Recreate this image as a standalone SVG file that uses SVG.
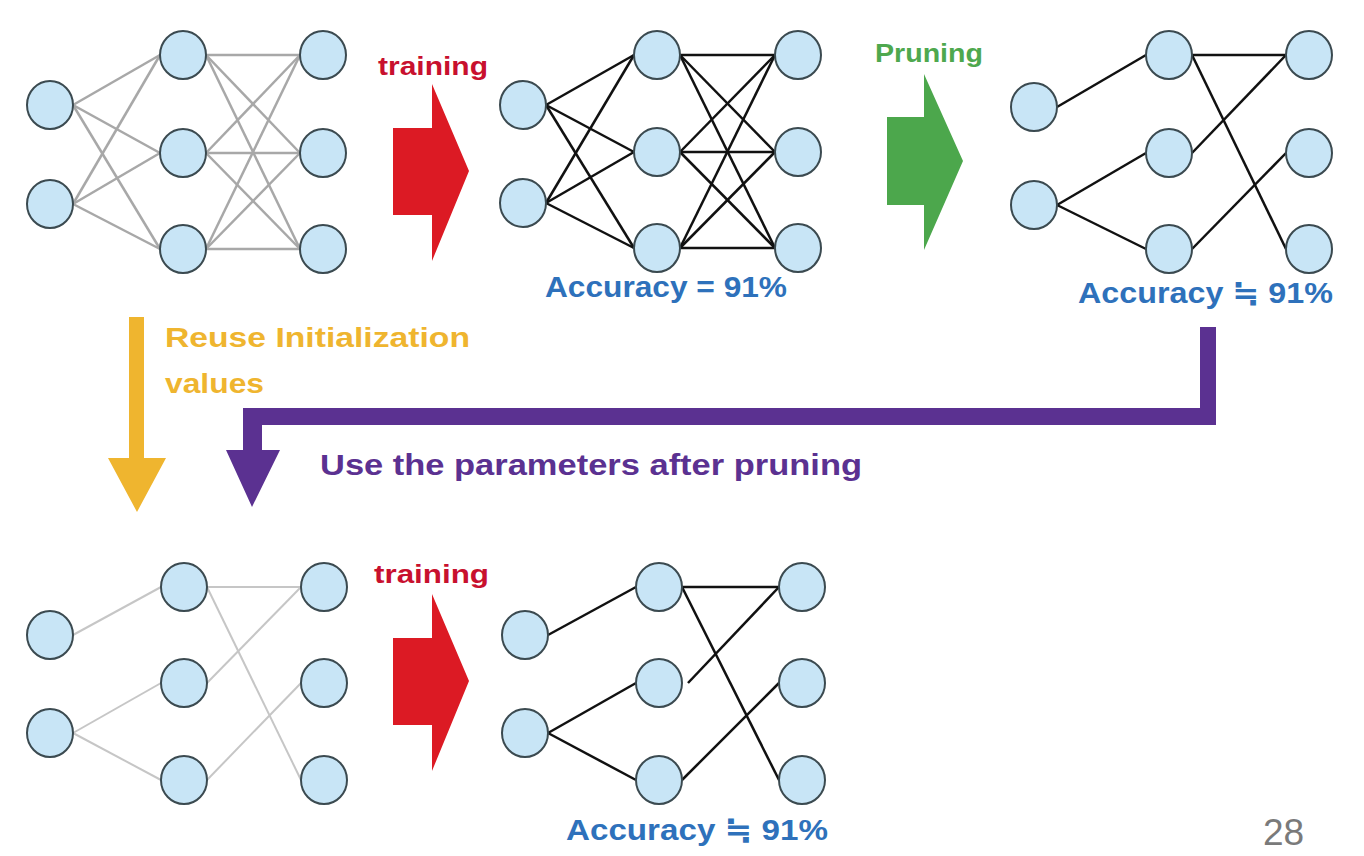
<svg xmlns="http://www.w3.org/2000/svg" width="1364" height="856" viewBox="0 0 1364 856">
<style>
.n{fill:#c8e5f6;stroke:#3b4a50;stroke-width:2}
.eg{stroke:#a8a8a8;stroke-width:2.5;fill:none}
.el{stroke:#c6c6c6;stroke-width:2;fill:none}
.eb{stroke:#111;stroke-width:2.5;fill:none}
.t{font-family:"Liberation Sans","DejaVu Sans",sans-serif;font-weight:bold}
</style>
<rect width="1364" height="856" fill="#fff"/>
<g id="connectors">
<g class="eg">
<line x1="73" y1="105" x2="160" y2="55"/><line x1="73" y1="105" x2="160" y2="153"/><line x1="73" y1="105" x2="160" y2="249"/>
<line x1="73" y1="204" x2="160" y2="55"/><line x1="73" y1="204" x2="160" y2="153"/><line x1="73" y1="204" x2="160" y2="249"/>
<line x1="206" y1="55" x2="300" y2="55"/><line x1="206" y1="55" x2="300" y2="153"/><line x1="206" y1="55" x2="300" y2="249"/>
<line x1="206" y1="153" x2="300" y2="55"/><line x1="206" y1="153" x2="300" y2="153"/><line x1="206" y1="153" x2="300" y2="249"/>
<line x1="206" y1="249" x2="300" y2="55"/><line x1="206" y1="249" x2="300" y2="153"/><line x1="206" y1="249" x2="300" y2="249"/>
</g>
<g class="eb">
<line x1="546" y1="105" x2="634" y2="55"/><line x1="546" y1="105" x2="634" y2="152"/><line x1="546" y1="105" x2="634" y2="248"/>
<line x1="546" y1="203" x2="634" y2="55"/><line x1="546" y1="203" x2="634" y2="152"/><line x1="546" y1="203" x2="634" y2="248"/>
<line x1="680" y1="55" x2="775" y2="55"/><line x1="680" y1="55" x2="775" y2="152"/><line x1="680" y1="55" x2="775" y2="248"/>
<line x1="680" y1="152" x2="775" y2="55"/><line x1="680" y1="152" x2="775" y2="152"/><line x1="680" y1="152" x2="775" y2="248"/>
<line x1="680" y1="248" x2="775" y2="55"/><line x1="680" y1="248" x2="775" y2="152"/><line x1="680" y1="248" x2="775" y2="248"/>
</g>
<g class="eb">
<line x1="1057" y1="107" x2="1146" y2="55"/><line x1="1057" y1="205" x2="1146" y2="153"/><line x1="1057" y1="205" x2="1146" y2="249"/>
<line x1="1192" y1="55" x2="1286" y2="55"/><line x1="1192" y1="55" x2="1286" y2="249"/>
<line x1="1192" y1="153" x2="1286" y2="55"/><line x1="1192" y1="249" x2="1286" y2="153"/>
</g>
<g class="el">
<line x1="73" y1="635" x2="161" y2="587"/><line x1="73" y1="733" x2="161" y2="683"/><line x1="73" y1="733" x2="161" y2="780"/>
<line x1="207" y1="587" x2="301" y2="587"/><line x1="207" y1="587" x2="301" y2="780"/>
<line x1="207" y1="683" x2="301" y2="587"/><line x1="207" y1="780" x2="301" y2="683"/>
</g>
<g class="eb">
<line x1="548" y1="635" x2="636" y2="587"/><line x1="548" y1="733" x2="636" y2="683"/><line x1="548" y1="733" x2="636" y2="780"/>
<line x1="682" y1="587" x2="779" y2="587"/><line x1="682" y1="587" x2="779" y2="780"/>
<line x1="688" y1="683" x2="779" y2="587"/><line x1="682" y1="780" x2="779" y2="683"/>
</g>
</g>
<g id="netA">
<g id="a-in1"><ellipse class="n" cx="50" cy="105" rx="23" ry="24"/></g>
<g id="a-in2"><ellipse class="n" cx="50" cy="204" rx="23" ry="24"/></g>
<g id="a-h1"><ellipse class="n" cx="183" cy="55" rx="23" ry="24"/></g>
<g id="a-h2"><ellipse class="n" cx="183" cy="153" rx="23" ry="24"/></g>
<g id="a-h3"><ellipse class="n" cx="183" cy="249" rx="23" ry="24"/></g>
<g id="a-o1"><ellipse class="n" cx="323" cy="55" rx="23" ry="24"/></g>
<g id="a-o2"><ellipse class="n" cx="323" cy="153" rx="23" ry="24"/></g>
<g id="a-o3"><ellipse class="n" cx="323" cy="249" rx="23" ry="24"/></g>
</g>
<g id="netB">
<g id="b-in1"><ellipse class="n" cx="523" cy="105" rx="23" ry="24"/></g>
<g id="b-in2"><ellipse class="n" cx="523" cy="203" rx="23" ry="24"/></g>
<g id="b-h1"><ellipse class="n" cx="657" cy="55" rx="23" ry="24"/></g>
<g id="b-h2"><ellipse class="n" cx="657" cy="152" rx="23" ry="24"/></g>
<g id="b-h3"><ellipse class="n" cx="657" cy="248" rx="23" ry="24"/></g>
<g id="b-o1"><ellipse class="n" cx="798" cy="55" rx="23" ry="24"/></g>
<g id="b-o2"><ellipse class="n" cx="798" cy="152" rx="23" ry="24"/></g>
<g id="b-o3"><ellipse class="n" cx="798" cy="248" rx="23" ry="24"/></g>
</g>
<g id="netC">
<g id="c-in1"><ellipse class="n" cx="1034" cy="107" rx="23" ry="24"/></g>
<g id="c-in2"><ellipse class="n" cx="1034" cy="205" rx="23" ry="24"/></g>
<g id="c-h1"><ellipse class="n" cx="1169" cy="55" rx="23" ry="24"/></g>
<g id="c-h2"><ellipse class="n" cx="1169" cy="153" rx="23" ry="24"/></g>
<g id="c-h3"><ellipse class="n" cx="1169" cy="249" rx="23" ry="24"/></g>
<g id="c-o1"><ellipse class="n" cx="1309" cy="55" rx="23" ry="24"/></g>
<g id="c-o2"><ellipse class="n" cx="1309" cy="153" rx="23" ry="24"/></g>
<g id="c-o3"><ellipse class="n" cx="1309" cy="249" rx="23" ry="24"/></g>
</g>
<g id="netD">
<g id="d-in1"><ellipse class="n" cx="50" cy="635" rx="23" ry="24"/></g>
<g id="d-in2"><ellipse class="n" cx="50" cy="733" rx="23" ry="24"/></g>
<g id="d-h1"><ellipse class="n" cx="184" cy="587" rx="23" ry="24"/></g>
<g id="d-h2"><ellipse class="n" cx="184" cy="683" rx="23" ry="24"/></g>
<g id="d-h3"><ellipse class="n" cx="184" cy="780" rx="23" ry="24"/></g>
<g id="d-o1"><ellipse class="n" cx="324" cy="587" rx="23" ry="24"/></g>
<g id="d-o2"><ellipse class="n" cx="324" cy="683" rx="23" ry="24"/></g>
<g id="d-o3"><ellipse class="n" cx="324" cy="780" rx="23" ry="24"/></g>
</g>
<g id="netE">
<g id="e-in1"><ellipse class="n" cx="525" cy="635" rx="23" ry="24"/></g>
<g id="e-in2"><ellipse class="n" cx="525" cy="733" rx="23" ry="24"/></g>
<g id="e-h1"><ellipse class="n" cx="659" cy="587" rx="23" ry="24"/></g>
<g id="e-h2"><ellipse class="n" cx="659" cy="683" rx="23" ry="24"/></g>
<g id="e-h3"><ellipse class="n" cx="659" cy="780" rx="23" ry="24"/></g>
<g id="e-o1"><ellipse class="n" cx="802" cy="587" rx="23" ry="24"/></g>
<g id="e-o2"><ellipse class="n" cx="802" cy="683" rx="23" ry="24"/></g>
<g id="e-o3"><ellipse class="n" cx="802" cy="780" rx="23" ry="24"/></g>
</g>
<g id="arrow-train1"><polygon fill="#dc1a24" points="393,128 432,128 432,84 469,171 432,261 432,215 393,215"/></g>
<g id="arrow-prune"><polygon fill="#4ca74c" points="887,117 924,117 924,74 963,161 924,250 924,205 887,205"/></g>
<g id="arrow-train2"><polygon fill="#dc1a24" points="393,638 432,638 432,594 469,681 432,771 432,725 393,725"/></g>
<g id="arrow-reuse"><polygon fill="#efb52f" points="129,317 144,317 144,458 166,458 137,512 108,458 129,458"/></g>
<g id="arrow-params"><polygon fill="#5b3191" points="1200,327 1216,327 1216,425 262,425 262,450 280,450 252,507 226,450 243,450 243,408 1200,408"/></g>
<g id="labels">
<text class="t" x="378" y="75" font-size="25" fill="#c8102e" textLength="110" lengthAdjust="spacingAndGlyphs">training</text>
<text class="t" x="875" y="62" font-size="25" fill="#4ea84e" textLength="108" lengthAdjust="spacingAndGlyphs">Pruning</text>
<text class="t" x="545" y="297" font-size="30" fill="#2e71bb" textLength="242" lengthAdjust="spacingAndGlyphs">Accuracy = 91%</text>
<text class="t" x="1078" y="303" font-size="29" fill="#2e71bb" textLength="255" lengthAdjust="spacingAndGlyphs">Accuracy ≒ 91%</text>
<text class="t" x="165" y="347" font-size="28" fill="#efb52f" textLength="305" lengthAdjust="spacingAndGlyphs">Reuse Initialization</text>
<text class="t" x="165" y="393" font-size="28" fill="#efb52f" textLength="99" lengthAdjust="spacingAndGlyphs">values</text>
<text class="t" x="320" y="475" font-size="30" fill="#5b3191" textLength="542" lengthAdjust="spacingAndGlyphs">Use the parameters after pruning</text>
<text class="t" x="374" y="583" font-size="25" fill="#c8102e" textLength="115" lengthAdjust="spacingAndGlyphs">training</text>
<text class="t" x="566" y="840" font-size="30" fill="#2e71bb" textLength="262" lengthAdjust="spacingAndGlyphs">Accuracy ≒ 91%</text>
<text x="1263" y="845" font-size="37" fill="#7a7a7a" font-family="Liberation Sans, Arial, sans-serif">28</text>
</g>
</svg>
